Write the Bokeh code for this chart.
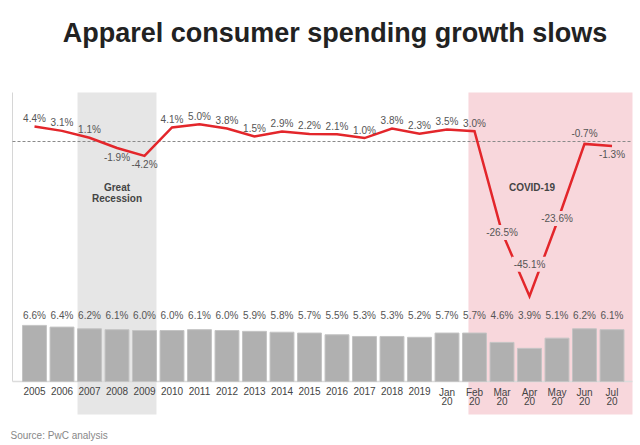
from bokeh.plotting import figure
from bokeh.models import Range1d, ColumnDataSource, Label
from bokeh.core.properties import value
from bokeh.embed import file_html
from bokeh.resources import INLINE

# ---- data ----
categories = ["2005", "2006", "2007", "2008", "2009", "2010", "2011", "2012",
              "2013", "2014", "2015", "2016", "2017", "2018", "2019",
              "Jan\n20", "Feb\n20", "Mar\n20", "Apr\n20", "May\n20", "Jun\n20", "Jul\n20"]
share_of_spending = [6.6, 6.4, 6.2, 6.1, 6.0, 6.0, 6.1, 6.0, 5.9, 5.8, 5.7,
                     5.5, 5.3, 5.3, 5.2, 5.7, 5.7, 4.6, 3.9, 5.1, 6.2, 6.1]
spending_growth = [4.4, 3.1, 1.1, -1.9, -4.2, 4.1, 5.0, 3.8, 1.5, 2.9, 2.2,
                   2.1, 1.0, 3.8, 2.3, 3.5, 3.0, -26.5, -45.1, -23.6, -0.7, -1.3]
recession_span = ("2007", "2009")
covid_span = ("Feb\n20", "Jul\n20")

FONT = "Liberation Sans"
PINK = "#f8d7dc"
GREY_BAND = "#e6e6e6"
RED = "#e3262b"

W, H = 640, 445
xs = list(range(len(categories)))
idx = {c: i for i, c in enumerate(categories)}

x_start, x_end = -1.2364, 22.036
right_edge = 21.745
p = figure(width=W, height=H, output_backend="svg", toolbar_location=None,
           x_range=Range1d(x_start, x_end), y_range=Range1d(-7.529, 44.824),
           min_border=0, outline_line_color=None,
           x_axis_location=None, y_axis_location=None,
           background_fill_color="white", border_fill_color="white")
p.grid.visible = False
p.extra_y_ranges = {"growth": Range1d(-88.63, 41.11)}

band_bottom, band_top = -3.88, 34.0
# shaded periods
p.quad(left=[idx[recession_span[0]] - 0.435], right=[idx[recession_span[1]] + 0.435],
       bottom=[band_bottom], top=[band_top], fill_color=GREY_BAND, line_color=None)
p.quad(left=[idx[covid_span[0]] - 0.22], right=[right_edge],
       bottom=[band_bottom], top=[band_top], fill_color=PINK, line_color=None)

# axis lines
axis_x = -0.8
p.segment(x0=[axis_x], y0=[0], x1=[axis_x], y1=[band_top], line_color="#d6d6d6", line_width=1)
p.segment(x0=[axis_x], y0=[0], x1=[right_edge], y1=[0], line_color="#dcdcdc", line_width=1.5)
p.segment(x0=[axis_x], y0=[0], x1=[right_edge], y1=[0], line_color="#8a8a8a", line_width=1,
          line_dash="3 2", y_range_name="growth")

# bars
bar_src = ColumnDataSource(dict(x=xs, top=share_of_spending,
                                lab=[f"{v:.1f}%" for v in share_of_spending]))
p.vbar(x="x", top="top", bottom=0, width=0.87, source=bar_src,
       fill_color="#b0b0b0", line_color="#c4c4c4", line_width=1)
p.text(x="x", y=7.76, text="lab", source=bar_src, text_align="center",
       text_baseline="middle", text_font=value(FONT), text_font_size="10px",
       text_color="#555555")

# x labels
p.text(x=xs, y=[-0.59] * len(xs), text=categories, text_align="center",
       text_baseline="top", text_font=value(FONT), text_font_size="10px",
       text_color="#444444", text_line_height=0.88)

# growth line
p.line(x=xs, y=spending_growth, line_color=RED, line_width=2.5,
       y_range_name="growth", line_join="miter")

offsets = {"2008": 9, "2009": 9, "Jul\n20": 9, "Jun\n20": -10,
           "Mar\n20": 0, "Apr\n20": -32, "May\n20": -4}
boxed = {"Mar\n20", "Apr\n20", "May\n20"}
plain = dict(x=[], y=[], t=[], off=[])
box = dict(x=[], y=[], t=[], off=[])
for c, v in zip(categories, spending_growth):
    d = box if c in boxed else plain
    d["x"].append(idx[c]); d["y"].append(v)
    d["t"].append(f"{v:.1f}%"); d["off"].append(offsets.get(c, -8))
p.text(x="x", y="y", text="t", y_offset="off", source=ColumnDataSource(plain),
       y_range_name="growth", text_align="center", text_baseline="middle",
       text_font=value(FONT), text_font_size="10px", text_color="#555555")
p.text(x="x", y="y", text="t", y_offset="off", source=ColumnDataSource(box),
       y_range_name="growth", text_align="center", text_baseline="middle",
       text_font=value(FONT), text_font_size="10px", text_color="#555555",
       background_fill_color=PINK, padding=2)

# period labels
rec_x = (idx[recession_span[0]] + idx[recession_span[1]]) / 2
p.text(x=[rec_x], y=[-15.0], text=["Great\nRecession"], y_range_name="growth",
       text_align="center", text_baseline="middle", text_font=value(FONT),
       text_font_size="10px", text_font_style="bold", text_color="#444444",
       text_line_height=0.95)
p.text(x=[idx["Apr\n20"] + 0.09], y=[-13.4], text=["COVID-19"], y_range_name="growth",
       text_align="center", text_baseline="middle", text_font=value(FONT),
       text_font_size="10px", text_font_style="bold", text_color="#444444")

# title and source
p.add_layout(Label(x=334.5, y=413, x_units="screen", y_units="screen",
                   text="Apparel consumer spending growth slows", text_align="center",
                   text_baseline="alphabetic", text_font=FONT, text_font_size="27px",
                   text_font_style="bold", text_color="#222222"))
p.add_layout(Label(x=10, y=10, x_units="screen", y_units="screen",
                   text="Source: PwC analysis", text_align="left",
                   text_baseline="alphabetic", text_font=FONT, text_font_size="10px",
                   text_color="#888888"))

open("out.html", "w").write(file_html(p, INLINE))
